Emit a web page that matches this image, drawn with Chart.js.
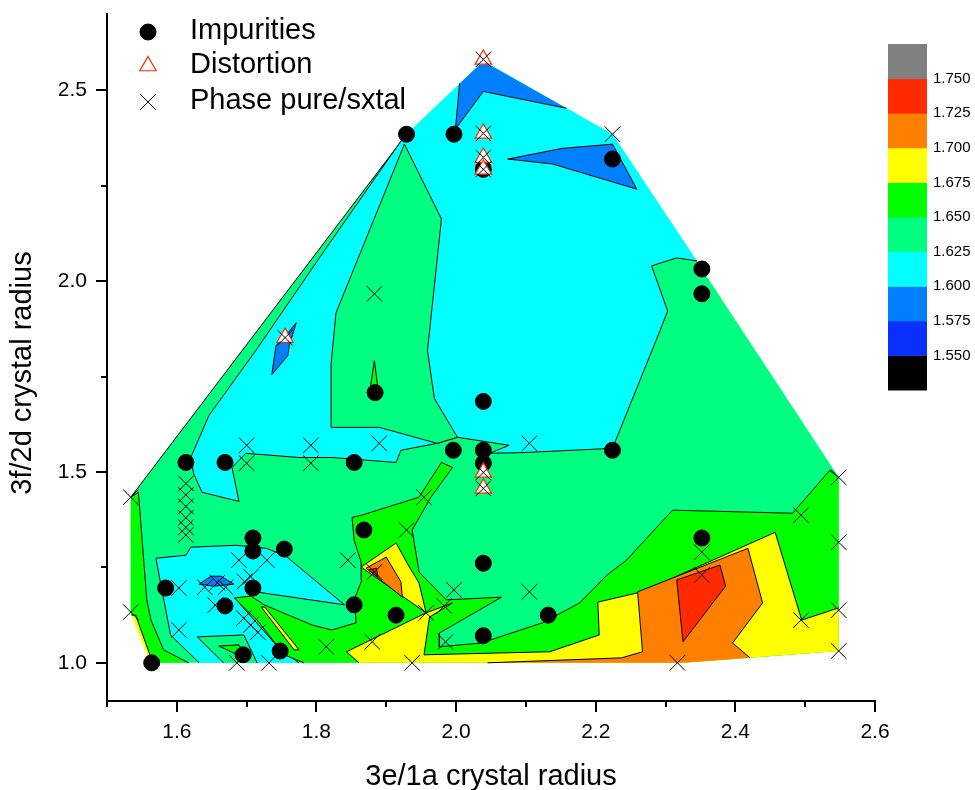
<!DOCTYPE html>
<html>
<head>
<meta charset="utf-8">
<script src="https://cdn.jsdelivr.net/npm/chart.js@4.4.1/dist/chart.umd.min.js"></script>
<style>
  html, body { margin: 0; padding: 0; background: #fff; }
</style>
</head>
<body>
<canvas id="chart" width="975" height="790"></canvas>
<script>
// ===== contour levels / colour bands =====
const levels = [1.550, 1.575, 1.600, 1.625, 1.650, 1.675, 1.700, 1.725, 1.750];
const bandColors = ['#000000', '#0a30ff', '#0080ff', '#00ffff', '#00ff80', '#00ff00', '#ffff00', '#ff8000', '#ff2a00', '#808080'];

// ===== contour regions, outlines in data units =====
const hull = [[1.564,1.000],[1.534,1.133],[1.534,1.434],[1.929,2.385],[2.039,2.576],[2.224,2.385],[2.352,2.032],[2.548,1.486],[2.548,1.031],[2.325,1.000]];
const cyanTop = [[1.921,2.367],[1.811,2.079],[1.713,1.818],[1.646,1.648],[1.620,1.538],[1.624,1.496],[1.636,1.447],[1.689,1.423],[1.679,1.512],[1.699,1.549],[1.775,1.538],[1.822,1.538],[1.914,1.525],[1.921,1.557],[1.973,1.575],[2.002,1.591],[2.076,1.570],[2.048,1.549],[2.098,1.551],[2.224,1.562],[2.292,1.870],[2.303,1.922],[2.280,2.040],[2.316,2.061],[2.345,2.053],[2.224,2.385],[2.039,2.576],[1.929,2.385]];
const tongue = [[1.926,2.359],[1.979,2.163],[1.959,1.818],[1.969,1.692],[2.002,1.591],[1.973,1.575],[1.890,1.617],[1.822,1.617],[1.821,1.784],[1.828,1.917]];
const spike = [[1.883,1.792],[1.877,1.719],[1.888,1.719]];
const azureTop = [[2.005,2.518],[2.039,2.576],[2.158,2.453],[2.039,2.497],[1.999,2.398]];
const azureRight = [[2.074,2.320],[2.152,2.348],[2.224,2.359],[2.259,2.241],[2.138,2.307]];
const azureLeft = [[1.771,1.891],[1.761,1.831],[1.759,1.805],[1.736,1.755],[1.742,1.831],[1.758,1.862]];
const cyanLow = [[1.570,1.274],[1.613,1.282],[1.620,1.303],[1.685,1.308],[1.728,1.300],[1.756,1.280],[1.840,1.152],[1.713,1.186],[1.689,1.157],[1.721,1.091],[1.746,1.039],[1.775,1.000],[1.632,1.000],[1.591,1.073]];
const springLow = [[1.629,1.068],[1.696,1.073],[1.715,1.000],[1.667,1.000]];
const greenLowTri = [[1.660,1.044],[1.689,1.047],[1.703,1.008]];
const azureLow = [[1.632,1.206],[1.649,1.227],[1.663,1.227],[1.682,1.206],[1.653,1.201]];
const greenLeft = [[1.534,1.434],[1.545,1.447],[1.547,1.400],[1.557,1.165],[1.563,1.112],[1.581,1.034],[1.617,1.000],[1.564,1.000],[1.534,1.133]];
const yellowLeft = [[1.535,1.125],[1.541,1.125],[1.564,1.008],[1.560,1.008]];
const greenMid = [[1.851,1.381],[1.865,1.387],[1.947,1.434],[1.979,1.525],[1.995,1.512],[1.964,1.434],[1.937,1.348],[1.947,1.238],[1.986,1.165],[2.065,1.172],[1.976,1.078],[1.976,1.042],[2.036,1.052],[2.124,1.105],[2.177,1.157],[2.216,1.230],[2.244,1.269],[2.310,1.400],[2.482,1.392],[2.535,1.504],[2.548,1.486],[2.548,1.031],[2.325,1.000],[1.782,1.000],[1.754,1.021],[1.715,1.112],[1.682,1.170],[1.706,1.175],[1.725,1.152],[1.794,1.099],[1.822,1.086],[1.857,1.105],[1.854,1.165],[1.865,1.217],[1.864,1.264],[1.854,1.321]];
const yellowMid = [[1.864,1.251],[1.914,1.314],[1.930,1.261],[1.947,1.209],[1.957,1.131],[1.995,1.157],[1.962,1.120],[1.954,1.021],[2.134,1.029],[2.205,1.073],[2.203,1.159],[2.266,1.186],[2.457,1.342],[2.495,1.112],[2.548,1.144],[2.548,1.031],[2.325,1.000],[1.861,1.000],[1.843,1.029],[1.957,1.131]];
const yellowStreak = [[1.721,1.146],[1.726,1.146],[1.775,1.034],[1.768,1.034]];
const orangeMid = [[1.871,1.248],[1.900,1.277],[1.921,1.212],[1.923,1.172]];
const redMid = [[1.875,1.243],[1.886,1.248],[1.888,1.225]];
const orangeRight = [[2.260,1.186],[2.418,1.300],[2.439,1.157],[2.396,1.052],[2.421,1.013],[2.325,1.000],[2.045,1.000],[2.237,1.013],[2.267,1.029]];
const redRight = [[2.316,1.217],[2.378,1.256],[2.386,1.201],[2.325,1.055]];

// painter's order, bottom first: [band index, outline]
const regions = [
  [4, hull], [3, cyanTop], [4, tongue], [5, spike],
  [2, azureTop], [2, azureRight], [2, azureLeft],
  [3, cyanLow], [4, springLow], [5, greenLowTri], [2, azureLow],
  [5, greenLeft], [6, yellowLeft],
  [5, greenMid], [6, yellowMid], [6, yellowStreak],
  [7, orangeMid], [8, redMid], [7, orangeRight], [8, redRight]
];

// ===== samples =====
const impurities = [[1.564,1.000],[1.584,1.196],[1.613,1.525],[1.669,1.525],[1.669,1.149],[1.695,1.021],[1.709,1.327],[1.709,1.293],[1.709,1.196],[1.748,1.031],[1.754,1.298],[1.854,1.525],[1.854,1.152],[1.868,1.348],[1.884,1.708],[1.914,1.125],[1.929,2.385],[1.997,2.385],[1.996,1.557],[2.039,1.685],[2.039,1.557],[2.039,1.523],[2.039,2.293],[2.039,1.261],[2.039,1.071],[2.132,1.125],[2.224,2.320],[2.224,1.557],[2.352,2.032],[2.352,1.967],[2.352,1.327]];
const distortion = [[2.039,2.581],[2.039,2.387],[2.039,2.324],[2.039,2.293],[2.039,1.499],[2.039,1.457],[1.755,1.852]];
const phasePure = [[2.039,2.581],[2.039,2.387],[2.039,2.324],[2.039,2.293],[2.039,1.499],[2.039,1.457],[1.755,1.852],
  [2.224,2.385],[1.534,1.434],[1.534,1.133],[1.613,1.470],[1.613,1.440],[1.613,1.410],[1.613,1.380],[1.613,1.355],[1.613,1.335],
  [1.700,1.570],[1.792,1.570],[1.890,1.575],[1.700,1.523],[1.792,1.523],[1.883,1.967],[2.105,1.575],[1.954,1.434],[1.929,1.348],
  [1.845,1.269],[1.883,1.238],[1.997,1.191],[1.983,1.149],[1.957,1.131],[2.105,1.186],[1.880,1.055],[1.985,1.055],[1.937,1.000],
  [1.814,1.042],[1.686,1.000],[1.732,1.000],[1.603,1.196],[1.603,1.086],[1.689,1.269],[1.729,1.269],[1.640,1.198],[1.658,1.210],
  [1.670,1.198],[1.697,1.213],[1.706,1.226],[1.655,1.151],[1.696,1.117],[1.706,1.099],[1.716,1.080],
  [2.548,1.486],[2.494,1.387],[2.548,1.316],[2.352,1.290],[2.352,1.230],[2.548,1.138],[2.494,1.112],[2.548,1.031],[2.317,1.000]];

// ===== axes =====
const xMajor = [1.6, 1.8, 2.0, 2.2, 2.4, 2.6];
const xMinor = [1.5, 1.7, 1.9, 2.1, 2.3, 2.5];
const yMajor = [1.0, 1.5, 2.0, 2.5];
const yMinor = [1.25, 1.75, 2.25];

const FONT = '"Liberation Sans", Arial, sans-serif';

// ===== helpers =====
function pts(arr, close) {
  const out = arr.map(p => ({x: p[0], y: p[1]}));
  if (close) out.push({x: arr[0][0], y: arr[0][1]});
  return out;
}

function distToSeg(p, a, b) {
  const dx = b[0] - a[0], dy = b[1] - a[1];
  let t = ((p.x - a[0]) * dx + (p.y - a[1]) * dy) / (dx * dx + dy * dy);
  t = Math.max(0, Math.min(1, t));
  return Math.hypot(p.x - (a[0] + t * dx), p.y - (a[1] + t * dy));
}

// contour lines are black, but the outer edge of the grid is left unstroked
// (except the upper-left edge which carries a line in the original)
function segBorder(ctx) {
  const sx = ctx.chart.scales.x, sy = ctx.chart.scales.y;
  const hp = hull.map(p => [sx.getPixelForValue(p[0]), sy.getPixelForValue(p[1])]);
  for (let i = 0; i < hp.length; i++) {
    const a = hp[i], b = hp[(i + 1) % hp.length];
    if (distToSeg(ctx.p0, a, b) < 3 && distToSeg(ctx.p1, a, b) < 3) {
      return i === 2 ? '#000' : 'rgba(0,0,0,0)';
    }
  }
  return '#000';
}

// ===== datasets =====
const layers = [];
regions.forEach(([band, outline]) => {
  layers.push({
    data: pts(outline, true), showLine: true, fill: 'shape',
    backgroundColor: bandColors[band], borderWidth: 0, pointRadius: 0
  });
  layers.push({
    data: pts(outline, true), showLine: true, fill: false,
    borderColor: '#000', borderWidth: 1, pointRadius: 0,
    segment: { borderColor: segBorder }
  });
});
layers.push({
  label: 'Impurities', data: pts(impurities), pointStyle: 'circle', pointRadius: 8,
  backgroundColor: '#000', borderColor: '#000', borderWidth: 1
});
layers.push({
  label: 'Distortion', data: pts(distortion), pointStyle: 'triangle', pointRadius: 9.5,
  backgroundColor: '#fff', borderColor: '#ff2a00', borderWidth: 1.2
});
layers.push({
  label: 'Phase pure/sxtal', data: pts(phasePure), pointStyle: 'crossRot', pointRadius: 11,
  backgroundColor: 'rgba(0,0,0,0)', borderColor: '#000', borderWidth: 1
});
// chart.js paints index 0 last, so reverse to keep painter's order
const datasets = layers.slice().reverse();

// ===== extras: ticks, legend, colour bar, y title =====
const decor = {
  id: 'decor',
  afterDraw(chart) {
    const ctx = chart.ctx;
    const xs = chart.scales.x, ys = chart.scales.y;
    ctx.save();
    ctx.strokeStyle = '#000';
    ctx.lineWidth = 2;
    const tick = (x1, y1, x2, y2) => { ctx.beginPath(); ctx.moveTo(x1, y1); ctx.lineTo(x2, y2); ctx.stroke(); };
    xMajor.forEach(v => { const p = Math.round(xs.getPixelForValue(v)); tick(p, xs.top, p, xs.top + 11); });
    xMinor.forEach(v => { const p = Math.round(xs.getPixelForValue(v)); tick(p, xs.top, p, xs.top + 6); });
    yMajor.forEach(v => { const p = Math.round(ys.getPixelForValue(v)); tick(ys.right, p, ys.right - 11, p); });
    yMinor.forEach(v => { const p = Math.round(ys.getPixelForValue(v)); tick(ys.right, p, ys.right - 6, p); });

    // y title
    ctx.fillStyle = '#000';
    ctx.font = '29px ' + FONT;
    ctx.textAlign = 'center';
    ctx.textBaseline = 'middle';
    ctx.save();
    ctx.translate(23, 373);
    ctx.rotate(-Math.PI / 2);
    ctx.fillText('3f/2d crystal radius', 0, 0);
    ctx.restore();

    // legend
    const marks = [layers[layers.length - 3], layers[layers.length - 2], layers[layers.length - 1]];
    const rows = [32, 66, 102];
    marks.forEach((ds, i) => {
      ctx.fillStyle = ds.backgroundColor;
      ctx.strokeStyle = ds.borderColor;
      ctx.lineWidth = ds.borderWidth;
      Chart.helpers.drawPoint(ctx, {
        pointStyle: ds.pointStyle, radius: ds.pointRadius, borderWidth: ds.borderWidth, rotation: 0
      }, 148, rows[i]);
      ctx.fillStyle = '#000';
      ctx.font = '29px ' + FONT;
      ctx.textAlign = 'left';
      ctx.textBaseline = 'middle';
      ctx.fillText(ds.label, 190, rows[i] - 1);
    });

    // colour bar
    const barX = 888, barW = 39, barBottom = 390, segH = 34.6;
    bandColors.forEach((c, i) => {
      ctx.fillStyle = c;
      ctx.fillRect(barX, barBottom - (i + 1) * segH, barW, segH + 0.5);
    });
    ctx.fillStyle = '#000';
    ctx.font = '15px ' + FONT;
    ctx.textAlign = 'left';
    ctx.textBaseline = 'middle';
    levels.forEach((v, i) => {
      ctx.fillText(v.toFixed(3), 933, barBottom - (i + 1) * segH);
    });
    ctx.restore();
  }
};

new Chart(document.getElementById('chart'), {
  type: 'scatter',
  data: { datasets },
  options: {
    responsive: false,
    animation: false,
    events: [],
    layout: { padding: { top: 14, right: 100, left: 0, bottom: 0 } },
    plugins: { legend: { display: false }, tooltip: { enabled: false } },
    elements: { line: { tension: 0 } },
    scales: {
      x: {
        type: 'linear', min: 1.5, max: 2.6,
        afterBuildTicks: s => { s.ticks = xMajor.map(v => ({ value: v })); },
        afterFit: s => { s.height = 89; s.paddingLeft = 0; s.paddingRight = 0; },
        grid: { display: true, drawOnChartArea: false, drawTicks: false },
        border: { display: true, color: '#000', width: 2 },
        ticks: {
          color: '#000', font: { family: FONT, size: 21 }, padding: 19,
          maxRotation: 0, autoSkip: false, callback: v => Number(v).toFixed(1)
        },
        title: {
          display: true, text: '3e/1a crystal radius', color: '#000',
          font: { family: FONT, size: 29 }, padding: { top: 0, bottom: -4 }
        }
      },
      y: {
        type: 'linear', min: 0.9, max: 2.7,
        afterBuildTicks: s => { s.ticks = yMajor.map(v => ({ value: v })); },
        afterFit: s => { s.width = 107; s.paddingTop = 0; s.paddingBottom = 0; },
        grid: { display: true, drawOnChartArea: false, drawTicks: false },
        border: { display: true, color: '#000', width: 2 },
        ticks: {
          color: '#000', font: { family: FONT, size: 21 }, padding: 20,
          callback: v => Number(v).toFixed(1)
        }
      }
    }
  },
  plugins: [decor]
});
</script>
</body>
</html>
